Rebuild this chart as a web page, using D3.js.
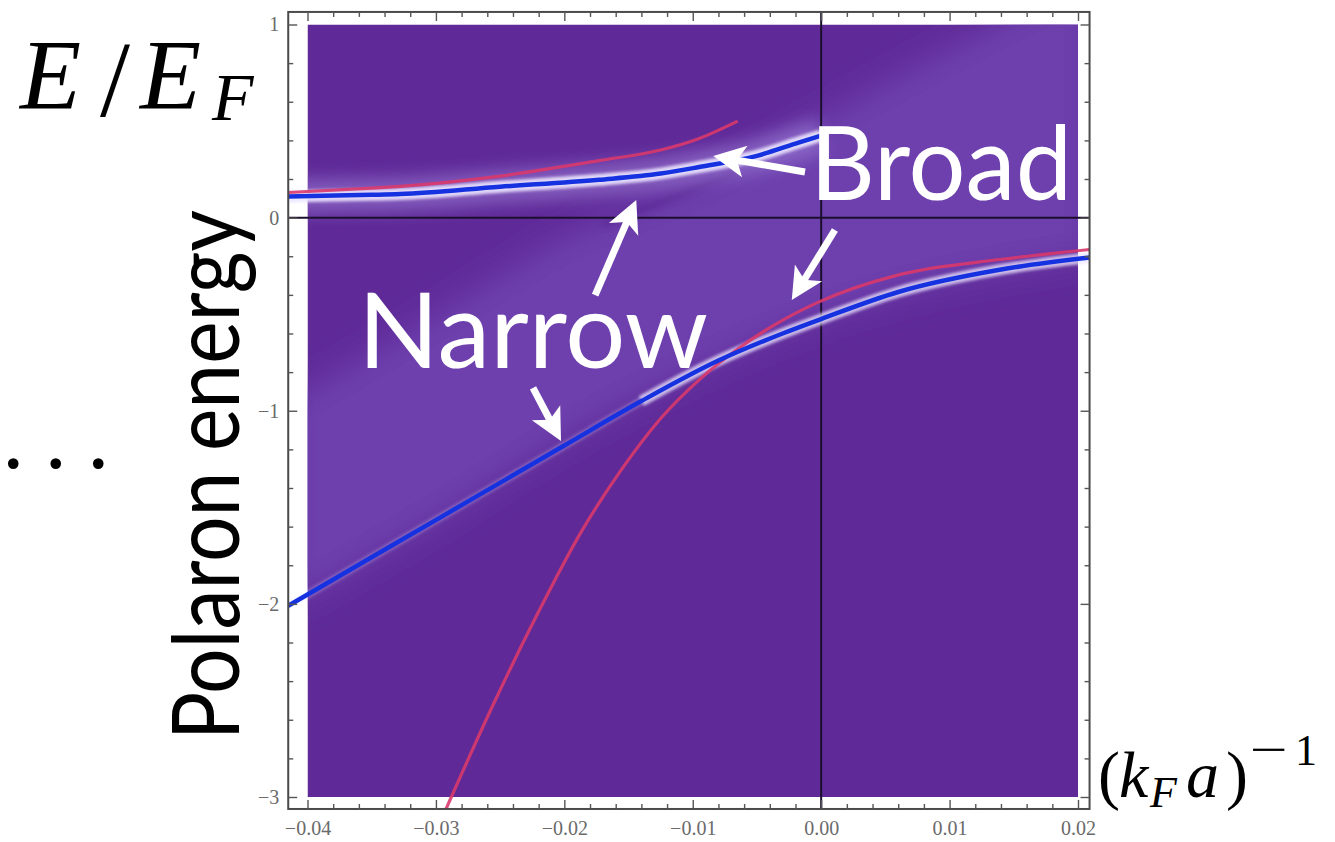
<!DOCTYPE html>
<meta charset="utf-8">
<head>
    <title>Polaron energy</title>
    <meta charset="utf-8">
</head>
<style>
    body {
        margin: 0;
        background-color: #ffffff;
    }
    svg { display: block; }
    .tick text {
        font-family: "Liberation Serif", serif;
        font-size: 20px;
        fill: #6a6a6a;
    }
    .tick line {
        stroke: #555;
        stroke-width: 1.4px;
    }
    .domain { display: none; }
    .math {
        font-family: "Liberation Serif", "DejaVu Serif", serif;
        fill: #000;
    }
    .big {
        font-family: Lato, "Open Sans", sans-serif;
    }
</style>
<body>
<svg width="1335" height="842"></svg>
<script src="https://d3js.org/d3.v7.min.js"></script>
<script>
    // curves: (kF a)^-1 vs E/EF
    var blueUpperX = [-0.0415, -0.035, -0.0328, -0.025, -0.0173, -0.0125, -0.0095, -0.005, -0.0017, 0.0];
    var blueUpperE = [0.11, 0.118, 0.122, 0.16, 0.196, 0.228, 0.262, 0.32, 0.39, 0.425];

    var redUpperX = [-0.0415, -0.035, -0.0328, -0.025, -0.0173, -0.0125, -0.0095, -0.0065];
    var redUpperE = [0.13, 0.153, 0.162, 0.215, 0.295, 0.35, 0.41, 0.50];

    var blueLowerX = [-0.0415, -0.034, -0.027, -0.020, -0.014, -0.008, -0.003, 0.0, 0.006, 0.0139, 0.0209];
    var blueLowerE = [-2.01, -1.72, -1.45, -1.18, -0.95, -0.74, -0.60, -0.525, -0.385, -0.27, -0.207];

    var redLowerX = [-0.0292, -0.0256, -0.022, -0.0188, -0.0155, -0.0125, -0.0095, -0.0065, -0.0035, -0.0003, 0.0061, 0.0139, 0.0209];
    var redLowerE = [-3.06, -2.53, -2.04, -1.64, -1.30, -1.04, -0.84, -0.68, -0.55, -0.44, -0.295, -0.217, -0.165];

    // lighter continuum band in the density plot
    var bandX = [-0.0415, -0.03, -0.02, -0.01, 0.0, 0.01, 0.021];
    var bandLo = [-2.01, -1.57, -1.15, -0.80, -0.52, -0.33, -0.20];
    var bandHi = [-0.95, -0.50, -0.10, 0.17, 0.52, 0.88, 1.25];

    var streakX = [-0.0168, -0.0069];
    var streakE = [-0.03, 0.23];

    var xMajor = [-0.04, -0.03, -0.02, -0.01, 0.0, 0.01, 0.02];
    var yMajor = [-3, -2, -1, 0, 1];
    var xDomain = [-0.04, 0.02];
    var yDomain = [-3, 1];
    var xFrame = [-0.0415, 0.0209];
    var yFrame = [-3.062, 1.065];

    // arrows: [x0, E0, x1 (tip), E1]
    var arrows = [
        [-0.00126, 0.236, -0.0084, 0.319],
        [0.00107, -0.064, -0.00229, -0.427],
        [-0.0176, -0.401, -0.0144, 0.091],
        [-0.02244, -0.882, -0.02026, -1.157]
    ];

    var svg = d3.select("svg");

    var x = d3.scaleLinear().domain(xDomain).range([307.5, 1078]);
    var y = d3.scaleLinear().domain(yDomain).range([797, 24.5]);

    var xMinor = d3.range(-0.04, 0.0201, 0.002).filter(function(d) { return Math.abs(Math.round(d * 100) - d * 100) > 1e-6; });
    var yMinor = d3.range(-3, 1.001, 0.2).filter(function(d) { return Math.abs(Math.round(d) - d) > 1e-6; });

    var defs = svg.append("defs");
    defs.append("clipPath").attr("id", "heat")
        .append("rect")
        .attr("x", x(xDomain[0])).attr("y", y(yDomain[1]))
        .attr("width", x(xDomain[1]) - x(xDomain[0]))
        .attr("height", y(yDomain[0]) - y(yDomain[1]));
    defs.append("clipPath").attr("id", "frame")
        .append("rect")
        .attr("x", x(xFrame[0])).attr("y", y(yFrame[1]))
        .attr("width", x(xFrame[1]) - x(xFrame[0]))
        .attr("height", y(yFrame[0]) - y(yFrame[1]));
    [["blur16", 16], ["blur8", 8], ["blur3", 3], ["blur2", 1.6]].forEach(function(b) {
        defs.append("filter").attr("id", b[0])
            .attr("x", "-50%").attr("y", "-50%").attr("width", "200%").attr("height", "200%")
            .append("feGaussianBlur").attr("stdDeviation", b[1]);
    });

    // density plot background
    var heat = svg.append("g").attr("clip-path", "url(#heat)");
    heat.append("rect")
        .attr("x", x(xDomain[0])).attr("y", y(yDomain[1]))
        .attr("width", x(xDomain[1]) - x(xDomain[0]))
        .attr("height", y(yDomain[0]) - y(yDomain[1]))
        .attr("fill", "#5f2a98");

    var band = d3.area()
        .x(function(d) { return x(d[0]); })
        .y0(function(d) { return y(d[1]); })
        .y1(function(d) { return y(d[2]); })
        .curve(d3.curveMonotoneX);
    heat.append("path")
        .datum(bandX.map(function(v, i) { return [v, bandLo[i], bandHi[i]]; }))
        .attr("d", band)
        .attr("fill", "#6d41ad")
        .attr("filter", "url(#blur16)");

    var line = d3.line()
        .x(function(d) { return x(d[0]); })
        .y(function(d) { return y(d[1]); })
        .curve(d3.curveMonotoneX);

    function pts(xs, es) { return xs.map(function(v, i) { return [v, es[i]]; }); }

    heat.append("path")
        .datum(pts(streakX, streakE))
        .attr("d", line)
        .attr("fill", "none")
        .attr("stroke", "#52228a")
        .attr("stroke-width", 6)
        .attr("stroke-linecap", "round")
        .attr("opacity", 0.55)
        .attr("filter", "url(#blur3)");

    // broad glow around the upper polaron peak
    heat.append("path")
        .datum(pts(blueUpperX, blueUpperE))
        .attr("d", line)
        .attr("fill", "none")
        .attr("stroke", "#a58ae0")
        .attr("stroke-width", 34)
        .attr("opacity", 0.5)
        .attr("filter", "url(#blur8)");

    // axes and frame
    var fx0 = x(xFrame[0]), fx1 = x(xFrame[1]), fy0 = y(yFrame[1]), fy1 = y(yFrame[0]);

    var plot = svg.append("g").attr("clip-path", "url(#frame)");
    plot.append("line")
        .attr("x1", x(0)).attr("x2", x(0)).attr("y1", fy0).attr("y2", fy1)
        .attr("stroke", "#1c0f2e").attr("stroke-width", 2);
    plot.append("line")
        .attr("x1", fx0).attr("x2", fx1).attr("y1", y(0)).attr("y2", y(0))
        .attr("stroke", "#1c0f2e").attr("stroke-width", 2);

    // narrow white glow of the peaks (weak on the straight lower-left part)
    var lowerGlow = pts(blueLowerX, blueLowerE).filter(function(d) { return d[0] > -0.017; });
    [[pts(blueUpperX, blueUpperE), 0.9, 12], [lowerGlow, 0.7, 11], [pts(blueLowerX, blueLowerE), 0.25, 8]].forEach(function(c) {
        plot.append("path")
            .datum(c[0])
            .attr("d", line)
            .attr("fill", "none")
            .attr("stroke", "#ece6ff")
            .attr("stroke-width", c[2])
            .attr("opacity", c[1])
            .attr("filter", "url(#blur2)");
    });
    [[redUpperX, redUpperE], [redLowerX, redLowerE]].forEach(function(c) {
        plot.append("path")
            .datum(pts(c[0], c[1]))
            .attr("d", line)
            .attr("fill", "none")
            .attr("stroke", "#d9386c")
            .attr("stroke-width", 3.2)
            .attr("opacity", 0.9);
    });
    [[blueUpperX, blueUpperE], [blueLowerX, blueLowerE]].forEach(function(c) {
        plot.append("path")
            .datum(pts(c[0], c[1]))
            .attr("d", line)
            .attr("fill", "none")
            .attr("stroke", "#1632e0")
            .attr("stroke-width", 4.5);
    });

    svg.append("rect")
        .attr("x", fx0).attr("y", fy0)
        .attr("width", fx1 - fx0).attr("height", fy1 - fy0)
        .attr("fill", "none")
        .attr("stroke", "#4a4a4a")
        .attr("stroke-width", 2);

    var fmtX = d3.format(".2f"), fmtY = d3.format("d");
    svg.append("g").attr("transform", "translate(0," + fy1 + ")")
        .call(d3.axisBottom(x).tickValues(xMajor).tickFormat(fmtX).tickSize(-9).tickPadding(12));
    svg.append("g").attr("transform", "translate(0," + fy1 + ")")
        .call(d3.axisBottom(x).tickValues(xMinor).tickFormat("").tickSize(-5));
    svg.append("g").attr("transform", "translate(0," + fy0 + ")")
        .call(d3.axisTop(x).tickValues(xMajor).tickFormat("").tickSize(-9));
    svg.append("g").attr("transform", "translate(0," + fy0 + ")")
        .call(d3.axisTop(x).tickValues(xMinor).tickFormat("").tickSize(-5));
    svg.append("g").attr("transform", "translate(" + fx0 + ",0)")
        .call(d3.axisLeft(y).tickValues(yMajor).tickFormat(fmtY).tickSize(-9).tickPadding(9));
    svg.append("g").attr("transform", "translate(" + fx0 + ",0)")
        .call(d3.axisLeft(y).tickValues(yMinor).tickFormat("").tickSize(-5));
    svg.append("g").attr("transform", "translate(" + fx1 + ",0)")
        .call(d3.axisRight(y).tickValues(yMajor).tickFormat("").tickSize(-9));
    svg.append("g").attr("transform", "translate(" + fx1 + ",0)")
        .call(d3.axisRight(y).tickValues(yMinor).tickFormat("").tickSize(-5));

    // annotations
    var ann = svg.append("g");
    arrows.forEach(function(a) {
        var x0 = x(a[0]), y0 = y(a[1]), x1 = x(a[2]), y1 = y(a[3]);
        var len = Math.hypot(x1 - x0, y1 - y0), ux = (x1 - x0) / len, uy = (y1 - y0) / len;
        var nx = -uy, ny = ux, h = 32, w = 16;
        ann.append("line")
            .attr("x1", x0).attr("y1", y0)
            .attr("x2", x1 - ux * h * 0.7).attr("y2", y1 - uy * h * 0.7)
            .attr("stroke", "#fff").attr("stroke-width", 7);
        var bx = x1 - ux * h, by = y1 - uy * h;
        ann.append("polygon")
            .attr("points", [
                [x1, y1],
                [bx + nx * w, by + ny * w],
                [x1 - ux * h * 0.75, y1 - uy * h * 0.75],
                [bx - nx * w, by - ny * w]
            ].map(function(p) { return p.join(","); }).join(" "))
            .attr("fill", "#fff");
    });

    ann.append("text").attr("class", "big")
        .attr("x", 810).attr("y", 200)
        .attr("font-size", 102).attr("fill", "#fff")
        .attr("textLength", 262).attr("lengthAdjust", "spacingAndGlyphs")
        .text("Broad");
    ann.append("text").attr("class", "big")
        .attr("x", 358).attr("y", 368)
        .attr("font-size", 104).attr("fill", "#fff")
        .attr("textLength", 350).attr("lengthAdjust", "spacingAndGlyphs")
        .text("Narrow");

    svg.append("text").attr("class", "big")
        .attr("transform", "translate(239,740) rotate(-90)")
        .attr("font-size", 94).attr("fill", "#000")
        .attr("textLength", 530).attr("lengthAdjust", "spacingAndGlyphs")
        .text("Polaron energy");

    // E / E_F
    var lab = svg.append("g").attr("class", "math");
    lab.append("text").attr("x", 20).attr("y", 108).attr("font-size", 100).attr("font-style", "italic").text("E");
    lab.append("text").attr("x", 100).attr("y", 116).attr("font-size", 108).text("/");
    lab.append("text").attr("x", 140).attr("y", 108).attr("font-size", 100).attr("font-style", "italic").text("E");
    lab.append("text").attr("x", 212).attr("y", 120).attr("font-size", 68).attr("font-style", "italic").text("F");

    // dots
    lab.append("text").attr("x", 2).attr("y", 468).attr("font-size", 90)
        .attr("letter-spacing", 20).text("...");

    // (k_F a)^-1
    lab.append("text").attr("x", 1098).attr("y", 797).attr("font-size", 66).text("(");
    lab.append("text").attr("x", 1119).attr("y", 797).attr("font-size", 66).attr("font-style", "italic").text("k");
    lab.append("text").attr("x", 1150).attr("y", 807).attr("font-size", 44).attr("font-style", "italic").text("F");
    lab.append("text").attr("x", 1186).attr("y", 797).attr("font-size", 66).attr("font-style", "italic").text("a");
    lab.append("text").attr("x", 1226).attr("y", 797).attr("font-size", 66).text(")");
    lab.append("text").attr("x", 1250).attr("y", 765).attr("font-size", 46)
        .attr("textLength", 38).attr("lengthAdjust", "spacingAndGlyphs").text("\u2212");
    lab.append("text").attr("x", 1295).attr("y", 765).attr("font-size", 44).text("1");
</script>
</body>
